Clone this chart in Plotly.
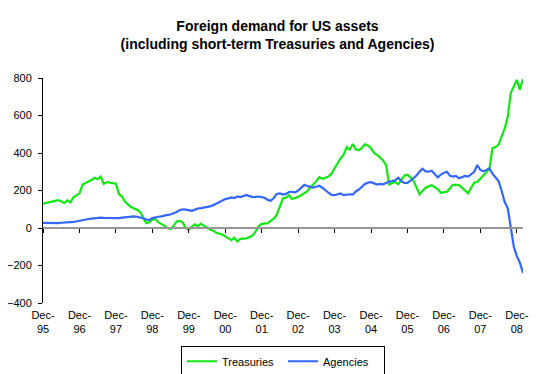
import plotly.graph_objects as go

# Month index 0 = Dec-1995
def month_date(m):
    total = 1995 * 12 + 11 + m
    y, mo = divmod(total, 12)
    return f"{y}-{mo + 1:02d}-01"

treasuries = [
    130, 135, 138, 141, 145, 148, 143, 133, 147, 136,
    164, 177, 185, 232, 239, 247, 256, 268, 260, 274,
    235, 245, 243, 240, 236, 180, 168, 141, 125, 112,
    104, 97, 85, 50, 25, 30, 44, 48, 30, 22,
    12, 0, -5, 10, 35, 38, 30, 0, -10, 8,
    20, 10, 22, 12, -2, -8, -14, -25, -30, -35,
    -45, -55, -65, -52, -72, -58, -58, -55, -48, -40,
    -20, 10, 22, 24, 26, 38, 50, 70, 115, 158,
    162, 175, 155, 160, 166, 175, 188, 195, 215, 230,
    250, 272, 262, 268, 275, 290, 320, 345, 372, 390,
    432, 418, 448, 420, 415, 428, 446, 440, 425, 400,
    390, 375, 360, 335, 232, 240, 245, 233, 255, 280,
    284, 270, 250, 220, 180, 198, 215, 222, 228, 218,
    208, 188, 190, 194, 212, 230, 230, 229, 215, 200,
    185, 215, 242, 245, 262, 278, 300, 315, 425, 432,
    445, 490, 530, 590, 720, 755, 790, 737, 794,
]

agencies = [
    27, 26, 25, 24, 23, 26, 28, 30, 31, 31,
    32, 36, 40, 42, 45, 48, 50, 52, 53, 55,
    54, 53, 52, 51, 50, 53, 55, 57, 58, 60,
    62, 60, 57, 52, 45, 42, 53, 58, 60, 62,
    68, 70, 72, 78, 85, 95, 100, 98, 95, 92,
    98, 104, 106, 108, 110, 115, 122, 130, 140, 148,
    154, 158, 163, 160, 168, 165, 172, 176, 170, 165,
    166, 168, 165, 160, 150, 145, 160, 182, 185, 178,
    182, 192, 193, 190, 200, 215, 230, 224, 220, 216,
    220, 225, 215, 200, 188, 176, 175, 180, 184, 175,
    177, 180, 178, 195, 205, 218, 235, 242, 245, 238,
    232, 235, 233, 240, 248, 250, 255, 268, 250, 240,
    240, 252, 265, 280, 300, 316, 302, 300, 305, 285,
    270, 285, 295, 300, 278, 274, 278, 265, 270, 278,
    274, 285, 300, 336, 310, 302, 312, 318, 290, 268,
    250, 200, 140, 105, 0, -100, -150, -185, -240,
]

dates = [month_date(m) for m in range(len(treasuries))]
tick_dates = [month_date(12 * k) for k in range(14)]
tick_labels = [f"Dec-<br>{(95 + k) % 100:02d}" for k in range(14)]

FONT = "Liberation Sans, Arial, sans-serif"

fig = go.Figure()
fig.add_trace(go.Scatter(x=dates, y=treasuries, mode="lines", name="Treasuries",
                         line=dict(color="#12E612", width=2.2)))
fig.add_trace(go.Scatter(x=dates, y=agencies, mode="lines", name="Agencies",
                         line=dict(color="#3366FF", width=2.2)))
# empty helper trace so the zero-crossing category axis (xaxis2) is drawn
fig.add_trace(go.Scatter(x=[], y=[], xaxis="x2", yaxis="y", showlegend=False,
                         hoverinfo="skip"))

# the page body adds an 8px offset, so the figure is 8px smaller than the window
fig.update_layout(
    width=539, height=366,
    margin=dict(l=35, r=24, t=70, b=71, autoexpand=False),
    paper_bgcolor="white", plot_bgcolor="white",
    font=dict(family=FONT, size=11, color="black"),
    title=dict(text="<b>Foreign demand for US assets<br>(including short-term Treasuries and Agencies)</b>",
               x=0.5, xanchor="center", yref="container", y=0.938, yanchor="top",
               font=dict(family=FONT, size=14, color="black")),
    showlegend=True,
    legend=dict(orientation="h", x=0.5, xanchor="center", yref="paper",
                y=-0.19, yanchor="top",
                bordercolor="black", borderwidth=1, font=dict(size=11),
                itemwidth=30, entrywidth=56, tracegroupgap=0),
    xaxis=dict(type="date", range=[month_date(0), month_date(len(treasuries) - 1)],
               tickmode="array", tickvals=tick_dates, ticktext=tick_labels,
               showline=False, showgrid=False, zeroline=False, ticks="",
               tickangle=0, tickfont=dict(size=11), ticklabelstandoff=4,
               automargin=False),
    xaxis2=dict(type="date", overlaying="x", matches="x", anchor="free", position=1/3,
                side="bottom", tickmode="array", tickvals=tick_dates,
                showticklabels=False, showline=True, linecolor="#969696", linewidth=2,
                ticks="outside", ticklen=4, tickcolor="black", tickwidth=1,
                showgrid=False, zeroline=False, automargin=False),
    yaxis=dict(range=[-400, 800], tickmode="linear", tick0=-400, dtick=200,
               showline=True, linecolor="black", linewidth=1,
               ticks="outside", ticklen=4, tickcolor="black",
               showgrid=False, zeroline=False, tickfont=dict(size=11),
               ticklabelstandoff=4, automargin=False),
)

fig.write_html("out.html")
